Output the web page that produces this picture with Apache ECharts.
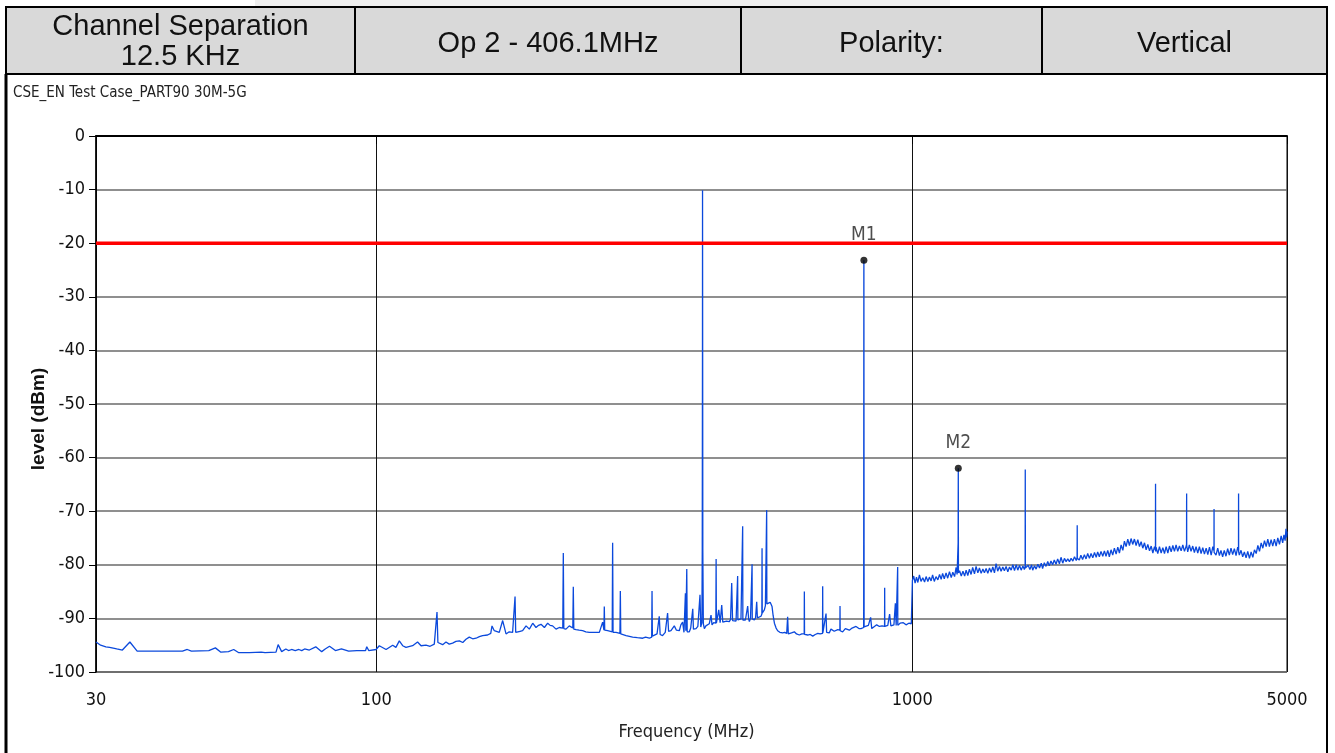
<!DOCTYPE html>
<html>
<head>
<meta charset="utf-8">
<title>CSE_EN Test Case_PART90 30M-5G</title>
<script src="https://cdn.jsdelivr.net/npm/echarts@6/dist/echarts.min.js"></script>
<style>
  html, body { margin: 0; padding: 0; background: #ffffff; }
  #chart { width: 1335px; height: 753px; }
</style>
</head>
<body>
<div id="chart"></div>
<script>
// ---- header table texts ----
const headerCells = ['Channel Separation\n12.5 KHz', 'Op 2 - 406.1MHz', 'Polarity:', 'Vertical'];
const chartTitle = 'CSE_EN Test Case_PART90 30M-5G';
const xAxisName = 'Frequency (MHz)';
const yAxisName = 'level (dBm)';

// ---- limit and markers ----
const limitLevel = -20;               // dBm
const limitSpan = [30, 5000];         // MHz
const markerNames = ['M1', 'M2'];
const markerFreqs = [812.2, 1218.3];  // MHz
const markerLevels = [-23.2, -62.0];  // dBm

// ---- measured trace, [MHz, dBm] ----
const trace30to100 = [
  [30, -94.4], [30.6, -95.0], [31.3, -95.3], [31.8, -95.4], [32.8, -95.7], [33.6, -95.9],
  [34.7, -94.4], [35.8, -96.1], [38, -96.1], [41, -96.1], [43.5, -96.1], [44.4, -95.8],
  [45.2, -96.1], [48.7, -96.0], [50.1, -95.5], [51.3, -96.3], [53, -96.2], [54.2, -95.8],
  [55.4, -96.4], [58, -96.4], [61, -96.3], [61.5, -96.1], [62, -96.4], [65.0, -96.3],
  [65.6, -94.9], [66.6, -96.2], [67.8, -95.7], [68.6, -96.0], [69.5, -95.8], [70.6, -96.0],
  [71.7, -95.8], [72.6, -96.0], [73.5, -95.7], [75.0, -95.9], [77.1, -95.3], [79.1, -96.2],
  [80.3, -95.7], [81.8, -95.2], [83.9, -96.0], [86.1, -95.7], [88.8, -96.1], [92, -96.0],
  [95.5, -96.0], [96.0, -95.3], [96.8, -96.0], [99.9, -95.8]
];
const trace100to370 = [
  [101.3, -95.1], [104.3, -95.8], [107.3, -95.0], [108.8, -95.4], [110.4, -94.2], [112.0, -95.1],
  [113.6, -95.4], [116.9, -95.1], [119.4, -94.4], [121.2, -95.1], [123.8, -95.0], [126, -95.2],
  [128.3, -94.8], [129.4, -94.7], [129.8, -88.8], [130.3, -94.5], [131.1, -94.6], [133, -94.9],
  [134.9, -94.4], [136.8, -94.8], [138.8, -94.6], [140.8, -94.3], [142.9, -94.2], [145, -94.5],
  [147.0, -93.9], [149.1, -93.5], [151.3, -93.8], [153.5, -93.7], [155.7, -93.4], [157.9, -93.2],
  [161.3, -93.1], [163.5, -92.8], [164.4, -91.4], [166.0, -92.3], [169.6, -92.6], [172.1, -90.4],
  [174.6, -92.9], [177, -92.5], [179.6, -92.6], [181.0, -92.7], [181.5, -85.9], [182.0, -92.6],
  [183.5, -92.9], [185.5, -92.4], [187.5, -92.3], [190.3, -91.4], [193.0, -92.0], [195.8, -90.9],
  [198.6, -91.7], [200.8, -91.3], [202.9, -91.1], [205.9, -91.7], [208.8, -90.9], [211, -91.3],
  [213.3, -91.4], [216.4, -92.0], [219.5, -91.7], [222.8, -91.8], [223.3, -77.8], [223.8, -91.9],
  [225.9, -92.0], [229.1, -91.4], [232.6, -91.8], [233.1, -84.1], [233.6, -92.0], [235.9, -92.1],
  [239, -92.2], [242.6, -92.3], [246, -92.5], [249.7, -92.6], [255, -92.6], [260.7, -92.6],
  [264.4, -90.7], [265.9, -92.2], [266.3, -87.8], [266.8, -92.2], [270.2, -92.3], [275.5, -92.5],
  [276.0, -75.9], [276.5, -92.6], [280.1, -92.6], [284.8, -92.8], [285.3, -84.9], [285.8, -92.9],
  [288.2, -92.9], [292.4, -93.2], [300.8, -93.5], [307, -93.6], [314.1, -93.7], [318, -93.5],
  [323.2, -93.7], [326.4, -93.5], [326.9, -84.9], [327.4, -93.3], [330.1, -93.2], [334, -92.9],
  [337.2, -89.6], [338.5, -93.0], [342.0, -93.2], [346, -92.6], [349.5, -89.0], [351, -92.4],
  [354.6, -92.3], [359.7, -91.4], [363, -92.2], [367.5, -92.3]
];
const trace370to1000 = [
  [370, -91.2], [372.8, -90.7], [375, -92.6], [377.3, -85.3], [378, -92.3], [379.5, -80.8],
  [380.2, -92.5], [383.7, -92.5], [386, -91.8], [389.4, -88.2], [390.5, -92.0], [394.9, -91.9],
  [398, -91.5], [401.7, -85.6], [403, -91.6], [405.0, -90.8], [405.6, -77.4], [406.0, -40.2],
  [406.1, -10.1], [406.6, -77.4], [407.5, -91.0], [409.3, -91.9], [412, -91.4], [415.1, -91.4],
  [418, -91.0], [421.2, -89.4], [423, -91.2], [426, -90.8], [430.0, -90.9], [430.5, -78.9],
  [431.0, -90.9], [433, -90.6], [435.4, -88.4], [438, -90.8], [441.0, -87.5], [443, -90.7],
  [445.9, -90.9], [450, -90.5], [455.6, -90.6], [458, -90.2], [460.3, -83.4], [462, -90.4],
  [465.6, -90.3], [469, -90.5], [471.8, -90.2], [472.2, -82.1], [472.7, -90.3], [475.8, -90.6],
  [479, -90.1], [482.1, -90.3], [482.5, -72.8], [482.9, -90.3], [485, -90.0], [488.2, -90.3],
  [491, -90.1], [493.0, -87.7], [495, -90.1], [496.6, -90.6], [499, -90.0], [502.0, -90.2],
  [502.4, -79.9], [502.8, -90.1], [505, -90.2], [507.3, -90.3], [510, -89.9], [512.5, -86.9],
  [514, -89.9], [518.4, -90.0], [522, -89.6], [524.0, -89.2], [524.4, -76.9], [524.8, -89.0],
  [529.6, -88.4], [532, -87.6], [534.6, -87.3], [534.9, -69.8], [535.3, -87.3], [539.5, -87.3],
  [543, -87.0], [547.4, -87.8], [550, -89.5], [553, -90.9], [557, -91.8], [560.8, -92.3],
  [566, -92.6], [572.9, -92.7], [578, -92.6], [583, -92.8], [585.3, -89.7], [587, -92.9],
  [589.6, -92.8], [595, -92.7], [602.4, -92.5], [608, -92.9], [615.5, -93.1], [622, -92.9],
  [628.5, -92.9], [628.9, -85.0], [629.4, -93.0], [633, -93.1], [638.2, -93.1], [645, -93.0],
  [652.0, -93.3], [659, -93.0], [666.3, -92.8], [673, -92.9], [680.0, -92.8], [680.4, -84.0],
  [680.9, -92.7], [685, -92.6], [690.3, -89.1], [692, -92.6], [700.3, -92.7], [705, -92.0],
  [710.3, -91.9], [715, -92.4], [720.7, -92.5], [726, -92.1], [732.6, -92.2], [733.0, -87.7],
  [733.5, -92.3], [741.3, -92.5], [750, -91.9], [762.9, -92.2], [772, -91.8], [785.2, -91.5],
  [795, -91.9], [802.2, -91.9], [808, -91.6], [811.4, -91.7], [812.0, -25.7], [812.2, -23.2],
  [812.9, -91.6], [819.8, -91.5], [828, -91.3], [836.0, -89.8], [840, -91.9], [849.7, -91.5],
  [858, -91.2], [868.2, -91.5], [878, -91.4], [887.6, -91.5], [888.0, -84.3], [888.5, -91.5],
  [895.5, -91.5], [900, -91.3], [907.0, -89.2], [912, -91.4], [918.9, -91.4], [924, -91.2],
  [929.7, -87.2], [933, -91.3], [938.6, -91.3], [939.0, -80.4], [939.5, -91.3], [948.7, -90.9],
  [955, -91.2], [962, -90.8], [973.4, -91.2], [985, -90.9], [995.6, -91.0], [999.6, -91.2]
];
const trace1000to5000 = [
  [1000.4, -82.9], [1006, -82.1], [1012, -83.4], [1018, -82.3], [1024, -83.3], [1031, -81.9],
  [1038, -83.1], [1046, -82.4], [1054, -83.2], [1061, -82.2], [1069, -83.1], [1076, -82.3],
  [1084, -83.0], [1091, -81.9], [1099, -83.1], [1107, -82.2], [1116, -82.8], [1124, -81.8],
  [1132, -82.7], [1139, -81.6], [1147, -82.6], [1156, -81.5], [1164, -82.5], [1173, -81.3],
  [1182, -82.4], [1190, -81.4], [1199, -82.2], [1207, -80.5], [1212, -81.8], [1217.4, -76.0],
  [1218.3, -62.0], [1219.1, -81.5], [1225, -81.1], [1234, -82.1], [1243, -81.2], [1252, -82.1],
  [1260, -81.0], [1269, -82.0], [1278, -80.8], [1287, -81.8], [1296, -80.5], [1306, -81.7],
  [1315, -80.3], [1325, -81.5], [1334, -80.6], [1344, -81.6], [1354, -80.8], [1363, -81.5],
  [1373, -80.7], [1383, -81.6], [1393, -80.6], [1403, -81.4], [1413, -80.4], [1423, -81.5],
  [1433, -79.8], [1443, -81.2], [1454, -80.3], [1464, -81.2], [1475, -80.4], [1485, -81.1],
  [1496, -80.3], [1507, -81.3], [1518, -80.4], [1529, -81.0], [1540, -80.0], [1551, -81.1],
  [1562, -80.0], [1573, -81.0], [1585, -80.1], [1596, -81.0], [1608, -80.2], [1618, -80.9],
  [1623.6, -80.2], [1624.4, -62.2], [1625.2, -80.6], [1633, -80.9], [1645, -80.1], [1657, -80.9],
  [1669, -80.0], [1677, -81.0], [1690, -80.2], [1702, -80.8], [1715, -79.9], [1727, -80.6],
  [1740, -79.7], [1750, -80.7], [1763, -79.6], [1776, -80.3], [1789, -79.4], [1801, -80.2],
  [1814, -79.3], [1827, -80.0], [1840, -79.1], [1854, -79.9], [1867, -78.9], [1881, -79.8],
  [1894, -78.6], [1908, -79.7], [1922, -78.8], [1936, -79.4], [1950, -78.9], [1964, -79.4],
  [1978, -78.8], [1993, -79.3], [2007, -78.5], [2022, -79.2], [2029.6, -78.6], [2030.5, -72.6],
  [2031.4, -78.8], [2049, -79.1], [2063, -78.2], [2078, -79.0], [2094, -78.1], [2109, -78.9],
  [2124, -77.9], [2140, -78.8], [2155, -77.9], [2171, -78.7], [2187, -77.7], [2203, -78.6],
  [2217, -77.6], [2233, -78.5], [2249, -77.5], [2266, -78.4], [2282, -77.4], [2298, -78.4],
  [2315, -77.3], [2331, -78.5], [2348, -77.2], [2365, -78.2], [2382, -76.9], [2400, -78.0],
  [2417, -76.7], [2434, -77.8], [2452, -76.3], [2470, -77.3], [2487, -75.6], [2505, -76.6],
  [2523, -75.2], [2541, -76.4], [2559, -75.1], [2577, -76.2], [2596, -75.2], [2615, -76.4],
  [2634, -75.3], [2653, -76.6], [2672, -75.7], [2691, -76.9], [2711, -75.9], [2730, -77.2],
  [2750, -76.2], [2770, -77.4], [2790, -76.5], [2810, -77.8], [2830, -76.6], [2841.7, -77.2],
  [2842.7, -64.9], [2843.7, -77.5], [2849, -76.7], [2870, -77.9], [2891, -76.6], [2912, -77.8],
  [2933, -76.8], [2954, -77.9], [2975, -76.6], [2997, -77.8], [3018, -76.5], [3040, -77.6],
  [3062, -76.4], [3083, -77.5], [3105, -76.3], [3127, -77.5], [3150, -76.5], [3173, -77.4],
  [3196, -76.3], [3219, -77.5], [3240, -76.6], [3247.8, -76.2], [3248.8, -66.7], [3249.8, -76.4],
  [3264, -77.6], [3287, -76.3], [3311, -77.5], [3335, -76.5], [3359, -77.7], [3383, -76.6],
  [3408, -77.8], [3432, -76.6], [3457, -77.9], [3482, -76.8], [3507, -78.0], [3533, -76.9],
  [3558, -78.1], [3584, -76.7], [3610, -78.2], [3636, -76.6], [3653.9, -77.4], [3654.9, -69.6],
  [3655.9, -77.7], [3686, -78.2], [3713, -76.9], [3740, -78.3], [3765, -77.3], [3792, -78.5],
  [3819, -77.3], [3847, -78.4], [3875, -77.0], [3903, -78.2], [3931, -76.9], [3959, -78.1],
  [3988, -77.0], [4017, -78.3], [4046, -76.7], [4059.8, -77.3], [4061, -66.7], [4062.2, -77.6],
  [4074, -78.2], [4104, -77.3], [4133, -78.5], [4163, -77.6], [4194, -78.7], [4224, -77.5],
  [4255, -78.8], [4286, -77.6], [4317, -78.6], [4348, -77.2], [4380, -77.9], [4412, -76.4],
  [4443, -77.5], [4475, -75.9], [4507, -76.9], [4539, -75.5], [4572, -76.6], [4604, -75.2],
  [4636, -76.6], [4670, -75.3], [4703, -76.5], [4737, -75.2], [4772, -76.5], [4806, -75.0],
  [4841, -76.2], [4876, -74.6], [4908, -75.9], [4935, -74.4], [4960, -75.5], [4978, -73.3],
  [4990, -74.9], [5000, -73.8]
];

const traceData = [].concat(trace30to100, trace100to370, trace370to1000, trace1000to5000);
const limitData = limitSpan.map(f => [f, limitLevel]);
const markerData = markerNames.map((n, i) => ({ name: n, value: [markerFreqs[i], markerLevels[i]] }));

const plotFont = "'Liberation Sans Narrow', 'DejaVu Sans Condensed', 'Liberation Sans', sans-serif";
const headFont = "'Liberation Sans', Arial, sans-serif";

// ---- header table drawn as graphic cells ----
const cellEdges = [6, 355, 741, 1042, 1327];
const headTop = 7, headBottom = 74;
const headerGraphics = [
  { type: 'rect', shape: { x: 255, y: 0, width: 695, height: 8 }, style: { fill: '#efefef' }, z: 0 }
];
headerCells.forEach((txt, i) => {
  const x0 = cellEdges[i], x1 = cellEdges[i + 1];
  const twoLines = txt.indexOf('\n') >= 0;
  headerGraphics.push({
    type: 'rect',
    shape: { x: x0, y: headTop, width: x1 - x0, height: headBottom - headTop },
    style: { fill: '#d9d9d9', stroke: '#000', lineWidth: 2 },
    z: 1
  });
  headerGraphics.push({
    type: 'text',
    x: (x0 + x1) / 2,
    y: (headTop + headBottom) / 2 + (twoLines ? 1 : 3),
    style: {
      text: txt, fill: '#111', font: '29px ' + headFont,
      align: 'center', verticalAlign: 'middle', lineHeight: 30
    },
    z: 2
  });
});
// frame below the header
headerGraphics.push({ type: 'line', shape: { x1: 6, y1: headBottom, x2: 6, y2: 753 }, style: { stroke: '#000', lineWidth: 3 }, z: 1 });
headerGraphics.push({ type: 'line', shape: { x1: 1327, y1: headBottom, x2: 1327, y2: 753 }, style: { stroke: '#000', lineWidth: 2 }, z: 1 });
headerGraphics.push({
  type: 'text', x: 13, y: 93,
  style: { text: chartTitle, fill: '#222', font: '15px ' + plotFont, verticalAlign: 'middle' },
  z: 2
});

const chart = echarts.init(document.getElementById('chart'), null, { renderer: 'canvas' });
chart.setOption({
  animation: false,
  backgroundColor: '#ffffff',
  graphic: headerGraphics,
  grid: {
    left: 96, top: 136, width: 1191, height: 536,
    show: true, borderColor: '#000', borderWidth: 1,
    outerBoundsMode: 'none'
  },
  xAxis: {
    type: 'log', logBase: 10, min: limitSpan[0], max: limitSpan[1],
    name: xAxisName, nameLocation: 'middle', nameGap: 51, nameMoveOverlap: false,
    nameTextStyle: { fontFamily: plotFont, fontSize: 18, color: '#222', padding: [0, 10, 0, 0] },
    axisLine: { lineStyle: { color: '#000', width: 2 } },
    axisTick: { show: true, length: 8, lineStyle: { color: '#000' } },
    axisLabel: {
      margin: 19, fontFamily: plotFont, fontSize: 18, color: '#111',
      formatter: v => String(Math.round(v))
    },
    splitLine: { show: true, lineStyle: { color: '#111', width: 1 } },
    minorTick: { show: false }, minorSplitLine: { show: false }
  },
  yAxis: {
    type: 'value', min: -100, max: 0, interval: 10,
    name: yAxisName, nameLocation: 'middle', nameGap: 48, nameMoveOverlap: false,
    nameTextStyle: {
      fontFamily: "'Liberation Sans', sans-serif", fontSize: 19, fontWeight: 'bold', color: '#111',
      padding: [0, 30, 0, 0]
    },
    axisLine: { show: true, lineStyle: { color: '#000', width: 1.5 } },
    axisTick: { show: true, length: 7, lineStyle: { color: '#000' } },
    axisLabel: { margin: 11, fontFamily: plotFont, fontSize: 18, color: '#111' },
    splitLine: { show: true, lineStyle: { color: '#6a6a6a', width: 1.5 } }
  },
  series: [
    {
      name: 'trace', type: 'line', data: traceData,
      showSymbol: false, symbol: 'none',
      lineStyle: { color: '#0b49dc', width: 1.3 },
      z: 2
    },
    {
      name: 'limit', type: 'line', data: limitData,
      showSymbol: false, symbol: 'none',
      lineStyle: { color: '#ff0000', width: 3.5 },
      z: 3
    },
    {
      name: 'markers', type: 'scatter', data: markerData,
      symbol: 'circle', symbolSize: 7,
      itemStyle: { color: '#000' },
      label: {
        show: true, position: 'top', distance: 12,
        formatter: p => p.name,
        fontFamily: plotFont, fontSize: 19, color: '#222'
      },
      z: 4
    }
  ]
});
</script>
</body>
</html>
